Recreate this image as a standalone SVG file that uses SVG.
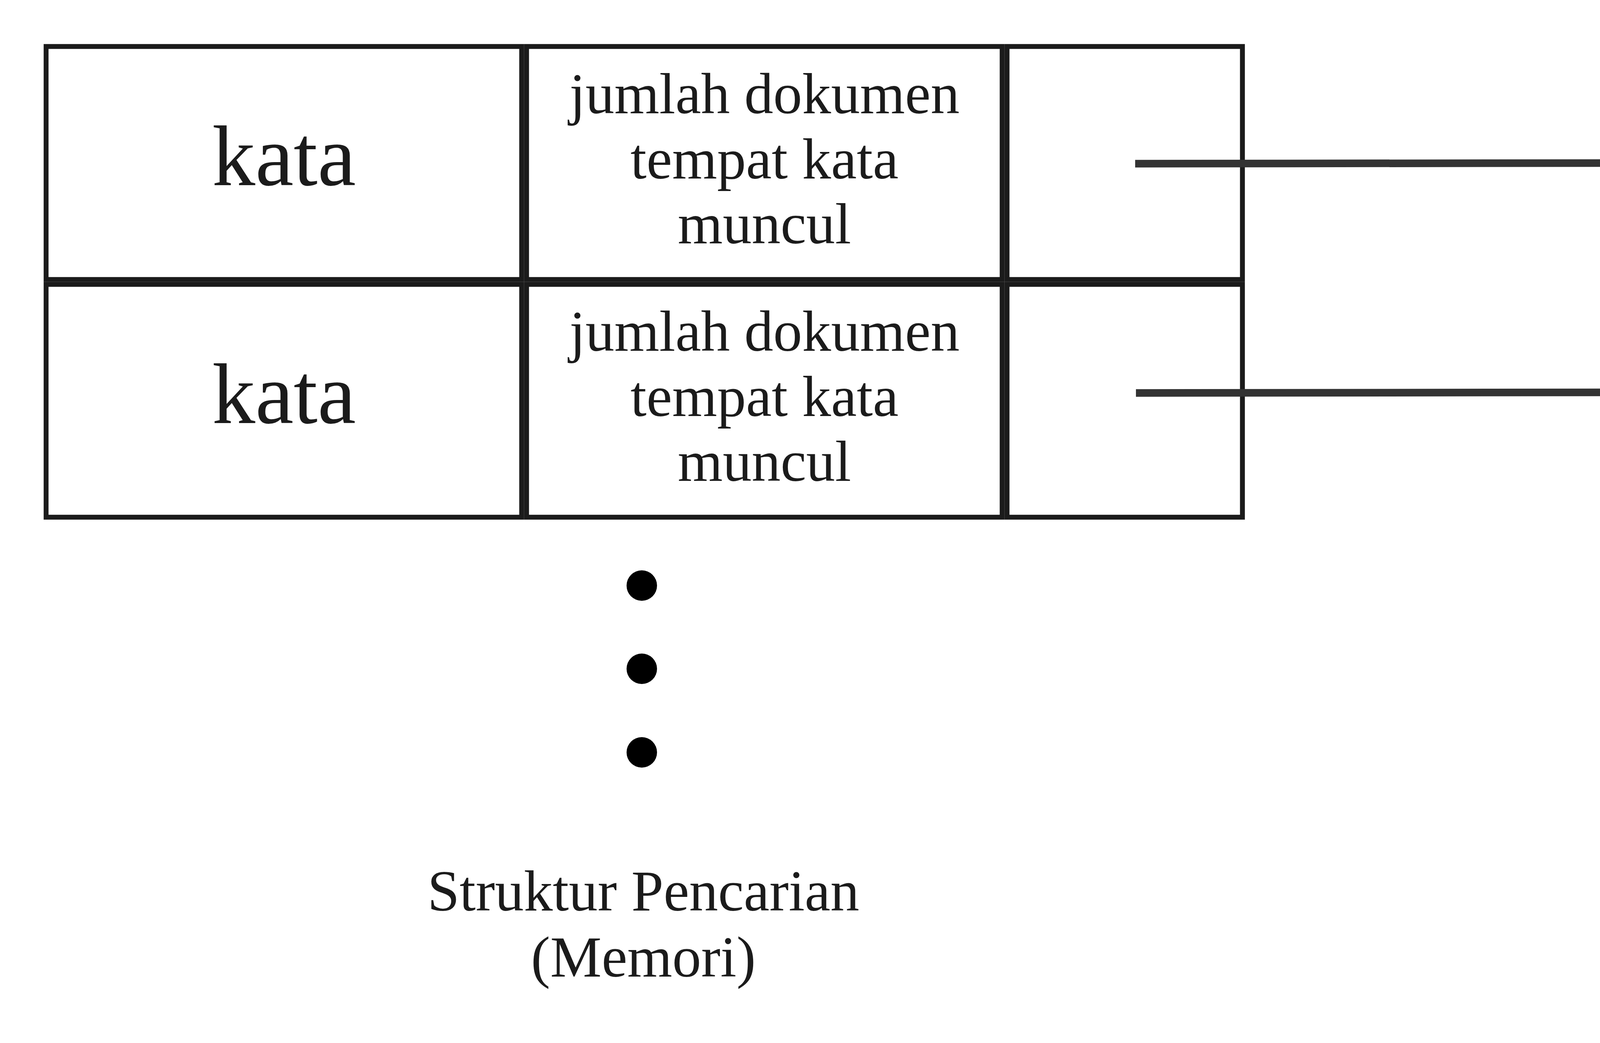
<svg xmlns="http://www.w3.org/2000/svg" width="5990" height="2670" viewBox="0 0 5990 2670">
<style>
.cell{fill:#ffffff;stroke:#1b1b1b;stroke-width:12.5}
.t{font-family:"Liberation Serif","Times New Roman",serif;font-size:148px;fill:#1b1b1b;text-anchor:middle}
.big{font-size:221px}
.it{font-style:italic}
.conn{stroke:#333333;stroke-width:19.5;fill:none}
.head{fill:#333333;stroke:#333333;stroke-width:9;stroke-linejoin:round}
.dot{fill:#000000}
</style>
<rect width="5990" height="2670" fill="#ffffff"/>
<g id="left-row1">
<rect class="cell" x="118" y="119" width="1217.5" height="596.5"/>
<rect class="cell" x="1348" y="119" width="1217.5" height="596.5"/>
<rect class="cell" x="2578" y="119" width="602.6" height="596.5"/>
<text class="t big" x="727" y="474">kata</text>
<text class="t" x="1957" y="290">jumlah dokumen</text>
<text class="t" x="1957" y="457">tempat kata</text>
<text class="t" x="1957" y="623">muncul</text>
</g>
<g id="left-row2">
<rect class="cell" x="118" y="728" width="1217.5" height="596"/>
<rect class="cell" x="1348" y="728" width="1217.5" height="596"/>
<rect class="cell" x="2578" y="728" width="602.6" height="596"/>
<text class="t big" x="727" y="1083">kata</text>
<text class="t" x="1957" y="898">jumlah dokumen</text>
<text class="t" x="1957" y="1065">tempat kata</text>
<text class="t" x="1957" y="1231">muncul</text>
</g>
<g id="right-row1">
<rect class="cell" x="4474.7" y="119" width="770.3" height="596.5"/>
<rect class="cell" x="5257" y="119" width="602.5" height="596.5"/>
<text class="t" x="4860" y="455">dokumen</text>
<text class="t" x="5556" y="371">jumlah</text>
<text class="t it" x="5556" y="540">hit</text>
</g>
<g id="right-row2">
<rect class="cell" x="4474.7" y="728" width="770.3" height="596"/>
<rect class="cell" x="5257" y="728" width="602.5" height="596"/>
<text class="t" x="4860" y="1063">dokumen</text>
<text class="t" x="5556" y="980">jumlah</text>
<text class="t it" x="5556" y="1149">hit</text>
</g>
<g id="connectors">
<line class="conn" x1="2906" y1="419" x2="4394" y2="417"/>
<path class="head" d="M4463,417 L4378,367 L4392,417 L4378,467 Z"/>
<line class="conn" x1="2908" y1="1006" x2="4394" y2="1004"/>
<path class="head" d="M4463,1004 L4378,954 L4392,1004 L4378,1054 Z"/>
</g>
<g id="left-dots">
<circle class="dot" cx="1643" cy="1499" r="39"/>
<circle class="dot" cx="1643" cy="1712" r="39"/>
<circle class="dot" cx="1643" cy="1926" r="39"/>
</g>
<g id="right-dots">
<circle class="dot" cx="5205" cy="1499" r="39"/>
<circle class="dot" cx="5205" cy="1712" r="39"/>
<circle class="dot" cx="5205" cy="1926" r="39"/>
</g>
<g id="label-left">
<text class="t" x="1647" y="2331">Struktur Pencarian</text>
<text class="t" x="1647" y="2500">(Memori)</text>
</g>
<g id="label-right">
<text class="t" x="5207" y="2331">Ruang</text>
<text class="t" x="5207" y="2500">Penyimpanan</text>
</g>
</svg>
